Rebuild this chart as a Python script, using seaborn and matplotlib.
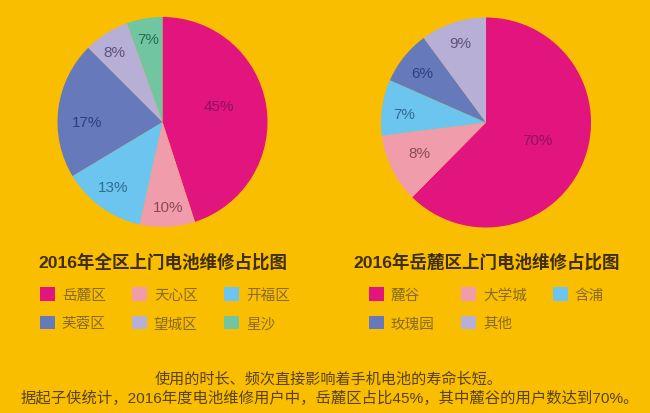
import math

import matplotlib
matplotlib.use("Agg")
import matplotlib.pyplot as plt
import seaborn as sns

# wedge shares, the printed labels don't quite add up to them
left_names = ["岳麓区", "天心区", "开福区", "芙蓉区", "望城区", "星沙"]
left_shares = [45, 8.5, 12.9, 21.1, 7, 5.5]
left_labels = ["45%", "10%", "13%", "17%", "8%", "7%"]

right_names = ["麓谷", "大学城", "含浦", "玫瑰园", "其他"]
right_shares = [62.4, 10.6, 8.6, 8.3, 10.1]
right_labels = ["70%", "8%", "7%", "6%", "9%"]

# label placement relative to each wedge: radius fraction, clockwise angle nudge
left_label_r = [0.56, 0.81, 0.78, 0.72, 0.81, 0.80]
left_label_nudge = [-6.8, -1, 1.5, -7, -1.8, 0]
right_label_r = [0.515, 0.70, 0.78, 0.77, 0.80]
right_label_nudge = [-3.6, 2, -2.4, -0.7, 0]

colors = ["#E2147D", "#F19CAB", "#6CC5EE", "#6579BB", "#B7AFD6", "#71C5A0"]
label_colors = ["#8E1067", "#8A4A55", "#2F6C94", "#2F3F80", "#5F4F80", "#1F7050"]
background = "#F9BE00"
text_color = "#5A4212"

sns.set_theme(style="white")
plt.rcParams["font.family"] = ["Liberation Sans", "Noto Sans CJK SC"]

W, H = 650, 414


def row_order(items):
    # fig.legend fills columns first, the reference reads across rows
    return [items[i] for i in [0, 3, 1, 4, 2, 5] if i < len(items)]


def draw_pie(ax, shares, labels, radii, nudges, names, title, title_x, legend_x):
    wedges, _ = ax.pie(
        shares,
        colors=colors[: len(shares)],
        startangle=90,
        counterclock=False,
        radius=1.0,
        wedgeprops={"linewidth": 0},
    )
    ax.set_xlim(-1, 1)
    ax.set_ylim(-1, 1)
    ax.set_aspect("equal")
    for wedge, label, color, r, nudge in zip(wedges, labels, label_colors, radii, nudges):
        mid = (wedge.theta1 + wedge.theta2) / 2 - nudge
        ax.text(
            r * math.cos(math.radians(mid)),
            r * math.sin(math.radians(mid)),
            label,
            ha="center",
            va="center",
            fontsize=11,
            color=color,
        )
    fig.text(title_x / W, 1 - 262 / H, title, ha="center", va="center",
             fontsize=12.6, fontweight="bold", color="#3F2E08")
    legend = fig.legend(
        row_order(wedges),
        row_order(names),
        ncol=3,
        loc="upper left",
        bbox_to_anchor=(legend_x / W, 1 - 288 / H),
        frameon=False,
        fontsize=10.5,
        handlelength=1.05,
        handleheight=1.05,
        handletextpad=0.45,
        columnspacing=1.8,
        labelspacing=0.95,
        borderpad=0,
        borderaxespad=0,
    )
    for text in legend.get_texts():
        text.set_color("#8A6A22")


fig = plt.figure(figsize=(W / 100, H / 100), dpi=100, facecolor=background)

# pie boxes in pixels: left, top, diameter
ax1 = fig.add_axes([57.5 / W, 1 - 228 / H, 210 / W, 210 / H])
ax2 = fig.add_axes([381 / W, 1 - 228.5 / H, 210 / W, 210 / H])

draw_pie(ax1, left_shares, left_labels, left_label_r, left_label_nudge, left_names,
         "2016年全区上门电池维修占比图", 163, 40)
draw_pie(ax2, right_shares, right_labels, right_label_r, right_label_nudge, right_names,
         "2016年岳麓区上门电池维修占比图", 487, 369)

fig.text(0.505, 1 - 379 / H, "使用的时长、频次直接影响着手机电池的寿命长短。", ha="center", va="center",
         fontsize=10.9, color=text_color)
fig.text(0.508, 1 - 398 / H, "据起子侠统计，2016年度电池维修用户中，岳麓区占比45%，其中麓谷的用户数达到70%。",
         ha="center", va="center", fontsize=11.05, color=text_color)

fig.savefig("out.png", dpi=100, facecolor=background)
